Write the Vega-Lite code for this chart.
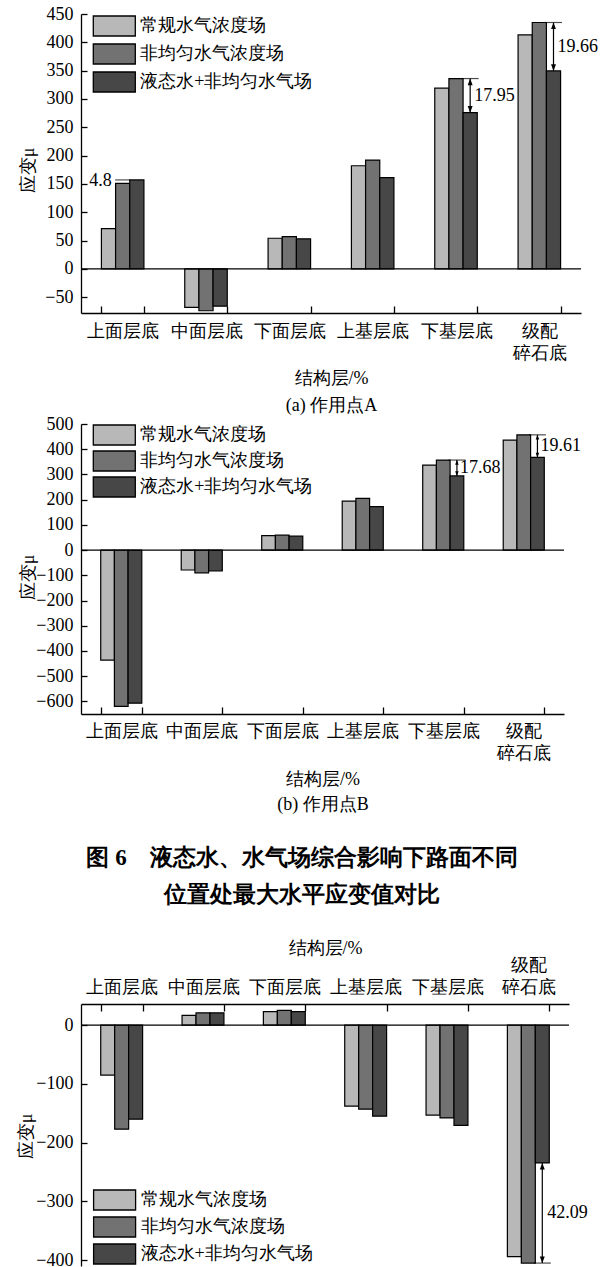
{
  "$schema": "https://vega.github.io/schema/vega-lite/v6.json",
  "padding": {"left": 17, "top": 5, "right": 0, "bottom": 0},
  "background": "white",
  "datasets": {
    "strainA": [
      {"layer": "上面层底", "series": "常规水气浓度场", "strain": 71},
      {"layer": "上面层底", "series": "非均匀水气浓度场", "strain": 151},
      {"layer": "上面层底", "series": "液态水+非均匀水气场", "strain": 157},
      {"layer": "中面层底", "series": "常规水气浓度场", "strain": -68},
      {"layer": "中面层底", "series": "非均匀水气浓度场", "strain": -74},
      {"layer": "中面层底", "series": "液态水+非均匀水气场", "strain": -66},
      {"layer": "下面层底", "series": "常规水气浓度场", "strain": 54},
      {"layer": "下面层底", "series": "非均匀水气浓度场", "strain": 57},
      {"layer": "下面层底", "series": "液态水+非均匀水气场", "strain": 53},
      {"layer": "上基层底", "series": "常规水气浓度场", "strain": 182},
      {"layer": "上基层底", "series": "非均匀水气浓度场", "strain": 192},
      {"layer": "上基层底", "series": "液态水+非均匀水气场", "strain": 161},
      {"layer": "下基层底", "series": "常规水气浓度场", "strain": 319},
      {"layer": "下基层底", "series": "非均匀水气浓度场", "strain": 336},
      {"layer": "下基层底", "series": "液态水+非均匀水气场", "strain": 276},
      {"layer": "级配碎石底", "series": "常规水气浓度场", "strain": 413},
      {"layer": "级配碎石底", "series": "非均匀水气浓度场", "strain": 435},
      {"layer": "级配碎石底", "series": "液态水+非均匀水气场", "strain": 349.5}
    ],
    "strainB": [
      {"layer": "上面层底", "series": "常规水气浓度场", "strain": -436},
      {"layer": "上面层底", "series": "非均匀水气浓度场", "strain": -620},
      {"layer": "上面层底", "series": "液态水+非均匀水气场", "strain": -607},
      {"layer": "中面层底", "series": "常规水气浓度场", "strain": -79},
      {"layer": "中面层底", "series": "非均匀水气浓度场", "strain": -90},
      {"layer": "中面层底", "series": "液态水+非均匀水气场", "strain": -83},
      {"layer": "下面层底", "series": "常规水气浓度场", "strain": 57},
      {"layer": "下面层底", "series": "非均匀水气浓度场", "strain": 59},
      {"layer": "下面层底", "series": "液态水+非均匀水气场", "strain": 55},
      {"layer": "上基层底", "series": "常规水气浓度场", "strain": 194},
      {"layer": "上基层底", "series": "非均匀水气浓度场", "strain": 205},
      {"layer": "上基层底", "series": "液态水+非均匀水气场", "strain": 172},
      {"layer": "下基层底", "series": "常规水气浓度场", "strain": 337},
      {"layer": "下基层底", "series": "非均匀水气浓度场", "strain": 357},
      {"layer": "下基层底", "series": "液态水+非均匀水气场", "strain": 294},
      {"layer": "级配碎石底", "series": "常规水气浓度场", "strain": 436},
      {"layer": "级配碎石底", "series": "非均匀水气浓度场", "strain": 457},
      {"layer": "级配碎石底", "series": "液态水+非均匀水气场", "strain": 367.4}
    ],
    "strainC": [
      {"layer": "上面层底", "series": "常规水气浓度场", "strain": -85},
      {"layer": "上面层底", "series": "非均匀水气浓度场", "strain": -177},
      {"layer": "上面层底", "series": "液态水+非均匀水气场", "strain": -160},
      {"layer": "中面层底", "series": "常规水气浓度场", "strain": 16.5},
      {"layer": "中面层底", "series": "非均匀水气浓度场", "strain": 21},
      {"layer": "中面层底", "series": "液态水+非均匀水气场", "strain": 21},
      {"layer": "下面层底", "series": "常规水气浓度场", "strain": 23},
      {"layer": "下面层底", "series": "非均匀水气浓度场", "strain": 25},
      {"layer": "下面层底", "series": "液态水+非均匀水气场", "strain": 23},
      {"layer": "上基层底", "series": "常规水气浓度场", "strain": -138},
      {"layer": "上基层底", "series": "非均匀水气浓度场", "strain": -143},
      {"layer": "上基层底", "series": "液态水+非均匀水气场", "strain": -155},
      {"layer": "下基层底", "series": "常规水气浓度场", "strain": -153},
      {"layer": "下基层底", "series": "非均匀水气浓度场", "strain": -158},
      {"layer": "下基层底", "series": "液态水+非均匀水气场", "strain": -170.5},
      {"layer": "级配碎石底", "series": "常规水气浓度场", "strain": -394},
      {"layer": "级配碎石底", "series": "非均匀水气浓度场", "strain": -405},
      {"layer": "级配碎石底", "series": "液态水+非均匀水气场", "strain": -234.5}
    ],
    "gapA": [
      {"layer": "下基层底", "nonuni": 336, "liquid": 276, "pct": "17.95"},
      {"layer": "级配碎石底", "nonuni": 435, "liquid": 349.5, "pct": "19.66"}
    ],
    "gapB": [
      {"layer": "下基层底", "nonuni": 357, "liquid": 294, "pct": "17.68"},
      {"layer": "级配碎石底", "nonuni": 457, "liquid": 367.4, "pct": "19.61"}
    ],
    "gapC": [
      {"layer": "级配碎石底", "nonuni": -405, "liquid": -234.5, "pct": "42.09"}
    ],
    "riseA": [
      {"layer": "上面层底", "liquid": 157, "pct": "4.8"}
    ]
  },
  "spacing": 34,
  "resolve": {"scale": {"color": "independent", "x": "independent", "y": "independent", "xOffset": "independent"}, "legend": {"color": "independent"}},
  "vconcat": [
    {
      "spacing": 1,
      "resolve": {"scale": {"color": "independent", "x": "independent", "y": "independent", "xOffset": "independent"}, "legend": {"color": "independent"}},
      "vconcat": [
        {
          "width": 500,
          "height": 299,
          "layer": [
            {
              "data": {"name": "strainA"},
              "mark": {"type": "bar", "stroke": "black", "strokeWidth": 1.2},
              "encoding": {
                "x": {"field": "layer", "type": "nominal",
                  "scale": {"domain": ["上面层底", "中面层底", "下面层底", "上基层底", "下基层底", "级配碎石底"], "paddingInner": 0.49, "paddingOuter": 0.245},
                  "axis": {"title": ["结构层/%", "(a) 作用点A"], "titleLineHeight": 27, "titlePadding": 7, "tickBand": "extent", "tickSize": -7, "labelPadding": 16, "labelLineHeight": 22,
                    "labelExpr": "datum.value == '级配碎石底' ? ['级配', '碎石底'] : datum.label"}},
                "xOffset": {"field": "series", "type": "nominal", "scale": {"domain": ["常规水气浓度场", "非均匀水气浓度场", "液态水+非均匀水气场"]}},
                "y": {"field": "strain", "type": "quantitative",
                  "scale": {"domain": [-78, 450], "nice": false, "zero": false},
                  "axis": {"values": [-50, 0, 50, 100, 150, 200, 250, 300, 350, 400, 450], "tickCount": 30, "labelOverlap": false, "title": "应变μ", "titleX": -43.5, "titleY": 156, "tickSize": -6, "labelPadding": 14}},
                "color": {"field": "series", "type": "nominal",
                  "scale": {"domain": ["常规水气浓度场", "非均匀水气浓度场", "液态水+非均匀水气场"], "range": ["#b8b8b8", "#727272", "#474747"]},
                  "legend": {"title": null, "orient": "none", "legendX": 22.3, "legendY": 1, "rowPadding": 2}}
              }
            },
            {
              "data": {"values": [{"strain": 0}]},
              "mark": {"type": "rule", "color": "black", "strokeWidth": 1.3},
              "encoding": {"y": {"field": "strain", "type": "quantitative"}}
            },
            {
              "data": {"name": "gapA"},
              "encoding": {
                "x": {"field": "layer", "type": "nominal"},
                "xOffset": {"datum": "液态水+非均匀水气场", "type": "nominal"}
              },
              "layer": [
                {"mark": {"type": "rule", "color": "black", "strokeWidth": 1.2},
                 "encoding": {"y": {"field": "nonuni", "type": "quantitative"}, "y2": {"field": "liquid"}}},
                {"mark": {"type": "tick", "orient": "horizontal", "size": 17, "thickness": 1.2, "color": "black"},
                 "encoding": {"y": {"field": "nonuni", "type": "quantitative"}}},
                {"mark": {"type": "point", "shape": "M0,0L-0.45,1.2L0.45,1.2Z", "filled": true, "size": 120, "color": "black", "opacity": 1},
                 "encoding": {"y": {"field": "nonuni", "type": "quantitative"}}},
                {"mark": {"type": "point", "shape": "M0,0L-0.45,-1.2L0.45,-1.2Z", "filled": true, "size": 120, "color": "black", "opacity": 1},
                 "encoding": {"y": {"field": "liquid", "type": "quantitative"}}},
                {"transform": [
                   {"fold": ["nonuni", "liquid"], "as": ["end", "val"]},
                   {"aggregate": [{"op": "mean", "field": "val", "as": "mid"}], "groupby": ["layer", "pct"]}
                 ],
                 "mark": {"type": "text", "align": "left", "baseline": "middle", "dx": 4},
                 "encoding": {"y": {"field": "mid", "type": "quantitative"}, "text": {"field": "pct"}}}
              ]
            },
            {
              "data": {"name": "riseA"},
              "encoding": {
                "x": {"field": "layer", "type": "nominal"},
                "xOffset": {"datum": "非均匀水气浓度场", "type": "nominal"},
                "y": {"field": "liquid", "type": "quantitative"}
              },
              "layer": [
                {"mark": {"type": "tick", "orient": "horizontal", "size": 15, "thickness": 1.2, "color": "black"}},
                {"mark": {"type": "text", "align": "right", "baseline": "middle", "dx": -11, "dy": 1},
                 "encoding": {"text": {"field": "pct"}}}
              ]
            }
          ]
        },
        {
          "width": 483,
          "height": 290,
          "layer": [
            {
              "data": {"name": "strainB"},
              "mark": {"type": "bar", "stroke": "black", "strokeWidth": 1.2},
              "encoding": {
                "x": {"field": "layer", "type": "nominal",
                  "scale": {"domain": ["上面层底", "中面层底", "下面层底", "上基层底", "下基层底", "级配碎石底"], "paddingInner": 0.49, "paddingOuter": 0.245},
                  "axis": {"title": ["结构层/%", "(b) 作用点B"], "titleLineHeight": 25, "titlePadding": 8, "tickBand": "extent", "tickSize": -7, "labelPadding": 15, "labelLineHeight": 22,
                    "labelExpr": "datum.value == '级配碎石底' ? ['级配', '碎石底'] : datum.label"}},
                "xOffset": {"field": "series", "type": "nominal", "scale": {"domain": ["常规水气浓度场", "非均匀水气浓度场", "液态水+非均匀水气场"]}},
                "y": {"field": "strain", "type": "quantitative",
                  "scale": {"domain": [-650, 500], "nice": false, "zero": false},
                  "axis": {"values": [-600, -500, -400, -300, -200, -100, 0, 100, 200, 300, 400, 500], "tickCount": 30, "labelOverlap": false, "title": "应变μ", "titleX": -43.5, "titleY": 153, "tickSize": -6, "labelPadding": 14}},
                "color": {"field": "series", "type": "nominal",
                  "scale": {"domain": ["常规水气浓度场", "非均匀水气浓度场", "液态水+非均匀水气场"], "range": ["#b8b8b8", "#727272", "#474747"]},
                  "legend": {"title": null, "orient": "none", "legendX": 22.3, "legendY": 0, "rowPadding": 0}}
              }
            },
            {
              "data": {"values": [{"strain": 0}]},
              "mark": {"type": "rule", "color": "black", "strokeWidth": 1.3},
              "encoding": {"y": {"field": "strain", "type": "quantitative"}}
            },
            {
              "data": {"name": "gapB"},
              "encoding": {
                "x": {"field": "layer", "type": "nominal"},
                "xOffset": {"datum": "液态水+非均匀水气场", "type": "nominal"}
              },
              "layer": [
                {"mark": {"type": "rule", "color": "black", "strokeWidth": 1.2},
                 "encoding": {"y": {"field": "nonuni", "type": "quantitative"}, "y2": {"field": "liquid"}}},
                {"mark": {"type": "tick", "orient": "horizontal", "size": 17, "thickness": 1.2, "color": "black"},
                 "encoding": {"y": {"field": "nonuni", "type": "quantitative"}}},
                {"mark": {"type": "point", "shape": "M0,0L-0.45,1.2L0.45,1.2Z", "filled": true, "size": 60, "color": "black", "opacity": 1},
                 "encoding": {"y": {"field": "nonuni", "type": "quantitative"}}},
                {"mark": {"type": "point", "shape": "M0,0L-0.45,-1.2L0.45,-1.2Z", "filled": true, "size": 60, "color": "black", "opacity": 1},
                 "encoding": {"y": {"field": "liquid", "type": "quantitative"}}},
                {"transform": [
                   {"fold": ["nonuni", "liquid"], "as": ["end", "val"]},
                   {"aggregate": [{"op": "mean", "field": "val", "as": "mid"}], "groupby": ["layer", "pct"]}
                 ],
                 "mark": {"type": "text", "align": "left", "baseline": "middle", "dx": 3},
                 "encoding": {"y": {"field": "mid", "type": "quantitative"}, "text": {"field": "pct"}}}
              ]
            }
          ]
        }
      ]
    },
    {
      "width": 488,
      "height": 262,
      "title": {
        "text": ["图 6\u3000液态水、水气场综合影响下路面不同", "位置处最大水平应变值对比"],
        "fontSize": 23, "fontWeight": "bold", "font": "Liberation Serif",
        "lineHeight": 37, "anchor": "middle", "offset": 32, "dx": -23, "color": "black"
      },
      "layer": [
        {
          "data": {"name": "strainC"},
          "mark": {"type": "bar", "stroke": "black", "strokeWidth": 1.2},
          "encoding": {
            "x": {"field": "layer", "type": "nominal",
              "scale": {"domain": ["上面层底", "中面层底", "下面层底", "上基层底", "下基层底", "级配碎石底"], "paddingInner": 0.485, "paddingOuter": 0.2425},
              "axis": {"orient": "top", "title": "结构层/%", "titlePadding": -1, "tickBand": "extent", "tickSize": -7, "labelPadding": 37, "labelLineHeight": 22,
                "labelExpr": "datum.value == '级配碎石底' ? ['级配', '碎石底'] : ['', datum.label]"}},
            "xOffset": {"field": "series", "type": "nominal", "scale": {"domain": ["常规水气浓度场", "非均匀水气浓度场", "液态水+非均匀水气场"]}},
            "y": {"field": "strain", "type": "quantitative",
              "scale": {"domain": [-410, 36], "nice": false, "zero": false},
              "axis": {"values": [-400, -300, -200, -100, 0], "tickCount": 30, "labelOverlap": false, "title": "应变μ", "titleX": -45.5, "titleY": 132, "tickSize": -6, "labelPadding": 14}},
            "color": {"field": "series", "type": "nominal",
              "scale": {"domain": ["常规水气浓度场", "非均匀水气浓度场", "液态水+非均匀水气场"], "range": ["#b8b8b8", "#727272", "#474747"]},
              "legend": {"title": null, "orient": "none", "legendX": 22.6, "legendY": 185, "rowPadding": 1}}
          }
        },
        {
          "data": {"values": [{"strain": 0}]},
          "mark": {"type": "rule", "color": "black", "strokeWidth": 1.3},
          "encoding": {"y": {"field": "strain", "type": "quantitative"}}
        },
        {
          "data": {"name": "gapC"},
          "encoding": {
            "x": {"field": "layer", "type": "nominal"},
            "xOffset": {"datum": "液态水+非均匀水气场", "type": "nominal"}
          },
          "layer": [
            {"mark": {"type": "rule", "color": "black", "strokeWidth": 1.2},
             "encoding": {"y": {"field": "liquid", "type": "quantitative"}, "y2": {"field": "nonuni"}}},
            {"mark": {"type": "tick", "orient": "horizontal", "size": 17, "thickness": 1.2, "color": "black"},
             "encoding": {"y": {"field": "nonuni", "type": "quantitative"}}},
            {"mark": {"type": "point", "shape": "M0,0L-0.45,1.2L0.45,1.2Z", "filled": true, "size": 120, "color": "black", "opacity": 1},
             "encoding": {"y": {"field": "liquid", "type": "quantitative"}}},
            {"mark": {"type": "point", "shape": "M0,0L-0.45,-1.2L0.45,-1.2Z", "filled": true, "size": 120, "color": "black", "opacity": 1},
             "encoding": {"y": {"field": "nonuni", "type": "quantitative"}}},
            {"transform": [
               {"fold": ["nonuni", "liquid"], "as": ["end", "val"]},
               {"aggregate": [{"op": "mean", "field": "val", "as": "mid"}], "groupby": ["layer", "pct"]}
             ],
             "mark": {"type": "text", "align": "left", "baseline": "middle", "dx": 5},
             "encoding": {"y": {"field": "mid", "type": "quantitative"}, "text": {"field": "pct"}}}
          ]
        }
      ]
    }
  ],
  "config": {
    "view": {"stroke": null},
    "font": "Liberation Serif",
    "axis": {
      "labelFont": "Liberation Serif", "titleFont": "Liberation Serif",
      "labelFontSize": 18, "titleFontSize": 18, "titleFontWeight": "normal",
      "labelColor": "black", "titleColor": "black", "domainColor": "black", "tickColor": "black",
      "domainWidth": 1.3, "tickWidth": 1.3, "grid": false, "labelAngle": 0, "labelLimit": 300, "labelOverlap": false
    },
    "legend": {
      "symbolType": "M-2.1,-1H2.1V1H-2.1Z", "symbolSize": 400,
      "symbolStrokeColor": "black", "symbolStrokeWidth": 1.3, "symbolOpacity": 1,
      "labelFont": "Liberation Serif", "labelFontSize": 18, "labelColor": "black",
      "labelOffset": 15, "labelLimit": 300, "padding": 0
    },
    "text": {"font": "Liberation Serif", "fontSize": 18, "color": "black"}
  }
}
